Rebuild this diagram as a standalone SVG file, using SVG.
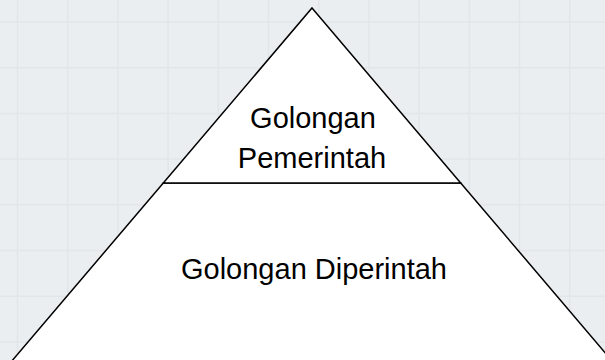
<svg xmlns="http://www.w3.org/2000/svg" width="605" height="360" viewBox="0 0 605 360">
  <defs>
    <style>
      .grid line { stroke: #e2e5e9; stroke-width: 1.5; }
      .shape { fill: #ffffff; stroke: #000000; stroke-width: 1.5; stroke-linejoin: miter; }
      .label { font-family: "Liberation Sans", Arial, sans-serif; font-size: 29px; fill: #000000; text-anchor: middle; }
    </style>
  </defs>
  <rect x="0" y="0" width="605" height="360" fill="#ebeef1"/>
  <g class="grid">
    <line x1="17.5" y1="0" x2="17.5" y2="360"/>
    <line x1="67.7" y1="0" x2="67.7" y2="360"/>
    <line x1="117.9" y1="0" x2="117.9" y2="360"/>
    <line x1="168.1" y1="0" x2="168.1" y2="360"/>
    <line x1="218.3" y1="0" x2="218.3" y2="360"/>
    <line x1="268.5" y1="0" x2="268.5" y2="360"/>
    <line x1="318.7" y1="0" x2="318.7" y2="360"/>
    <line x1="368.9" y1="0" x2="368.9" y2="360"/>
    <line x1="419.1" y1="0" x2="419.1" y2="360"/>
    <line x1="469.3" y1="0" x2="469.3" y2="360"/>
    <line x1="519.5" y1="0" x2="519.5" y2="360"/>
    <line x1="569.7" y1="0" x2="569.7" y2="360"/>
    <line x1="0" y1="22" x2="605" y2="22"/>
    <line x1="0" y1="67.7" x2="605" y2="67.7"/>
    <line x1="0" y1="113.4" x2="605" y2="113.4"/>
    <line x1="0" y1="159.1" x2="605" y2="159.1"/>
    <line x1="0" y1="204.8" x2="605" y2="204.8"/>
    <line x1="0" y1="250.5" x2="605" y2="250.5"/>
    <line x1="0" y1="296.2" x2="605" y2="296.2"/>
    <line x1="0" y1="341.9" x2="605" y2="341.9"/>
  </g>
  <g id="golongan-diperintah">
    <polygon class="shape" points="163.3,183 460.7,183 613,362 11,362"/>
    <text class="label" x="314" y="279">Golongan Diperintah</text>
  </g>
  <g id="golongan-pemerintah">
    <polygon class="shape" points="312,8 460.7,183 163.3,183"/>
    <text class="label" x="313" y="128">Golongan</text>
    <text class="label" x="312" y="168">Pemerintah</text>
  </g>
  <g id="connectors"></g>
</svg>
